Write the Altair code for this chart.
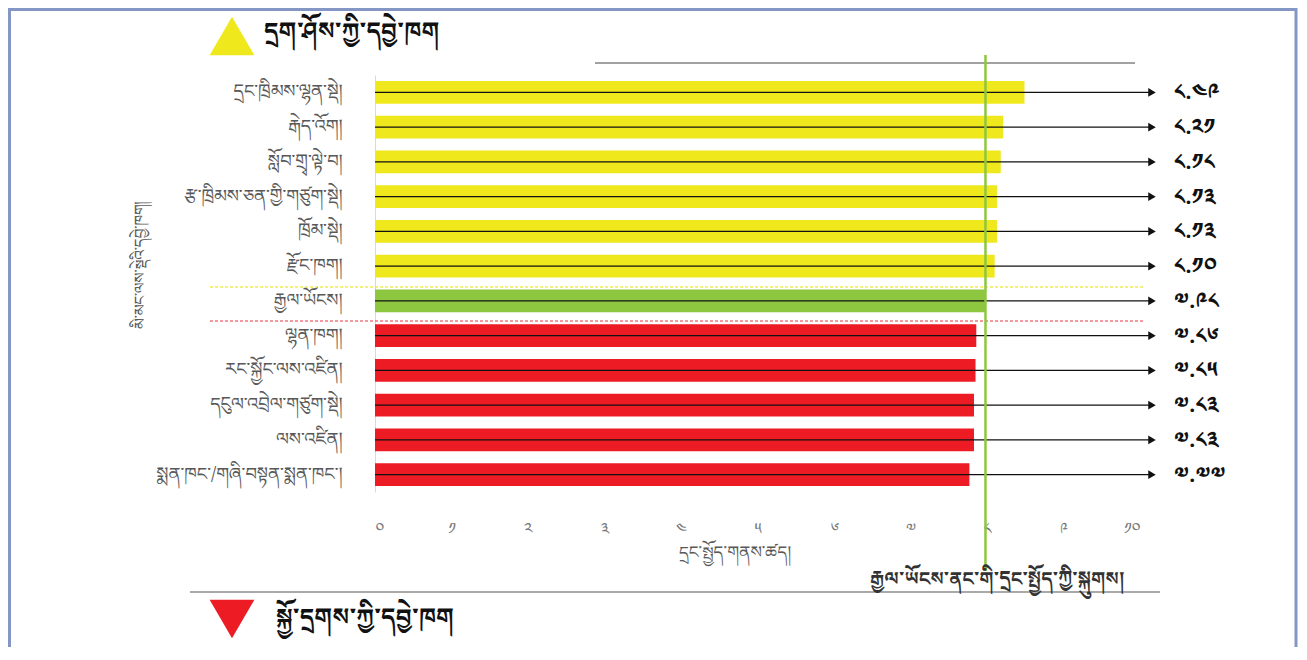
import altair as alt
import pandas as pd

# ---- data ----
CATEGORIES = [
    "དྲང་ཁྲིམས་ལྷན་སྡེ།",
    "རྒེད་འོག།",
    "སློབ་གྲྭ་ལྟེ་བ།",
    "རྩ་ཁྲིམས་ཅན་གྱི་གཙུག་སྡེ།",
    "ཁྲོམ་སྡེ།",
    "རྫོང་ཁག།",
    "རྒྱལ་ཡོངས།",
    "ལྷན་ཁག།",
    "རང་སྐྱོང་ལས་འཛིན།",
    "དངུལ་འབྲེལ་གཙུག་སྡེ།",
    "ལས་འཛིན།",
    "སྨན་ཁང་/གཞི་བསྟན་སྨན་ཁང་།",
]
VALUES = [8.49, 8.21, 8.18, 8.13, 8.13, 8.10, 7.98, 7.86, 7.85, 7.83, 7.83, 7.77]
VALUE_LABELS = ["༨.༤༩", "༨.༢༡", "༨.༡༨", "༨.༡༣", "༨.༡༣", "༨.༡༠",
                "༧.༩༨", "༧.༨༦", "༧.༨༥", "༧.༨༣", "༧.༨༣", "༧.༧༧"]
GROUPS = ["best"] * 6 + ["national"] + ["worst"] * 5
TICK_LABELS = ["༠", "༡", "༢", "༣", "༤", "༥", "༦", "༧", "༨", "༩", "༡༠"]

NATIONAL_VALUE = 7.98
TITLE_TOP = "དྲག་ཤོས་ཀྱི་དབྱེ་ཁག"
TITLE_BOTTOM = "སྐྱོ་དྲགས་ཀྱི་དབྱེ་ཁག"
X_TITLE = "དྲང་སྤྱོད་གནས་ཚད།"
Y_TITLE = "མི་མང་ལས་སྡེའི་དབྱེ་ཁག།"
NATIONAL_NOTE = "རྒྱལ་ཡོངས་ནང་གི་དྲང་སྤྱོད་ཀྱི་སྐུགས།"

FONT = "Noto Serif Tibetan, Noto Sans Tibetan, Jomolhari, Tibetan Machine Uni, Microsoft Himalaya, DejaVu Sans, sans-serif"

df = pd.DataFrame({"cat": CATEGORIES, "value": VALUES, "label": VALUE_LABELS, "group": GROUPS})
one = pd.DataFrame({"k": [0]})

W, H = 765, 417

x_scale = alt.Scale(domain=[0, 10], nice=False)
y_scale = alt.Scale(domain=CATEGORIES, paddingInner=0.34, paddingOuter=0.17)
color_scale = alt.Scale(domain=["best", "national", "worst"], range=["#efe81c", "#8dc63f", "#ed1c24"])

tick_expr = "[" + ",".join("'" + t + "'" for t in TICK_LABELS) + "][datum.value]"

base = alt.Chart(df)

bars = base.mark_bar().encode(
    x=alt.X("value:Q", scale=x_scale,
            axis=alt.Axis(values=list(range(11)), labelExpr=tick_expr, title=None,
                          domain=False, ticks=False, grid=False, labelPadding=28,
                          labelFontSize=16, labelColor="#777777", labelFont=FONT)),
    y=alt.Y("cat:N", scale=y_scale, sort=CATEGORIES,
            axis=alt.Axis(title=None, ticks=False, grid=False, domainColor="#d9d9d9",
                          labelPadding=33, labelFontSize=18, labelColor="#595959",
                          labelFont=FONT, labelLimit=320)),
    color=alt.Color("group:N", scale=color_scale, legend=None),
)

arrows = base.mark_rule(color="#111111", strokeWidth=1.3).encode(
    x=alt.X("zero:Q", scale=x_scale),
    x2=alt.value(774),
    y=alt.Y("cat:N", scale=y_scale, sort=CATEGORIES),
).transform_calculate(zero="0")

heads = base.mark_point(shape="triangle-right", filled=True, color="#111111", size=75, opacity=1).encode(
    x=alt.value(777),
    y=alt.Y("cat:N", scale=y_scale, sort=CATEGORIES),
)

value_text = base.mark_text(align="left", baseline="middle", fontSize=22, fontWeight="bold",
                            color="#111111", font=FONT).encode(
    x=alt.value(799),
    y=alt.Y("cat:N", scale=y_scale, sort=CATEGORIES),
    text="label:N",
)

nat = alt.Chart(pd.DataFrame({"v": [NATIONAL_VALUE]})).mark_rule(color="#8dc63f", strokeWidth=2.5).encode(
    x=alt.X("v:Q", scale=x_scale),
    y=alt.value(-20),
    y2=alt.value(496),
)

c = alt.Chart(one)

dash_yellow = c.mark_rule(color="#e8e000", strokeDash=[3, 2], strokeWidth=1).encode(
    x=alt.value(-165), x2=alt.value(770), y=alt.value(212))
dash_red = c.mark_rule(color="#e8323a", strokeDash=[3, 2], strokeWidth=1).encode(
    x=alt.value(-165), x2=alt.value(770), y=alt.value(246))

top_line = c.mark_rule(color="#444444", strokeWidth=1).encode(
    x=alt.value(220), x2=alt.value(760), y=alt.value(-12))
bottom_line = c.mark_rule(color="#555555", strokeWidth=1.2).encode(
    x=alt.value(-185), x2=alt.value(785), y=alt.value(517))

frame = c.mark_rect(fillOpacity=0, stroke="#8497c4", strokeWidth=3).encode(
    x=alt.value(-365.5), x2=alt.value(921), y=alt.value(-65.5), y2=alt.value(620))

tri_up = c.mark_point(shape="triangle-up", filled=True, color="#efe81c", size=2000, opacity=1).encode(
    x=alt.value(-143), y=alt.value(-39))
tri_down = c.mark_point(shape="triangle-down", filled=True, color="#ed1c24", size=2000, opacity=1).encode(
    x=alt.value(-143), y=alt.value(544))

t_top = c.mark_text(align="left", baseline="middle", fontSize=24, fontWeight="bold",
                    color="#111111", font=FONT, text=TITLE_TOP).encode(
    x=alt.value(-111), y=alt.value(-43))
t_bottom = c.mark_text(align="left", baseline="middle", fontSize=24, fontWeight="bold",
                       color="#111111", font=FONT, text=TITLE_BOTTOM).encode(
    x=alt.value(-99), y=alt.value(543))
t_x = c.mark_text(align="center", baseline="middle", fontSize=17,
                  color="#595959", font=FONT, text=X_TITLE).encode(
    x=alt.value(360), y=alt.value(478))
t_y = c.mark_text(align="center", baseline="middle", fontSize=15, angle=270,
                  color="#595959", font=FONT, text=Y_TITLE).encode(
    x=alt.value(-235), y=alt.value(190))
t_note = c.mark_text(align="left", baseline="middle", fontSize=19, fontWeight="bold",
                     color="#333333", font=FONT, text=NATIONAL_NOTE).encode(
    x=alt.value(495), y=alt.value(504))

chart = alt.layer(
    frame, dash_yellow, dash_red, top_line, bottom_line,
    bars, arrows, heads, value_text, nat,
    tri_up, tri_down, t_top, t_bottom, t_x, t_y, t_note,
).properties(
    width=W, height=H,
    autosize=alt.AutoSizeParams(type="none"),
    padding={"left": 367, "top": 67, "right": 159, "bottom": 155},
    background="white",
).configure_view(stroke=None)

chart.save("out.html", embed_options={"renderer": "svg", "actions": False})
